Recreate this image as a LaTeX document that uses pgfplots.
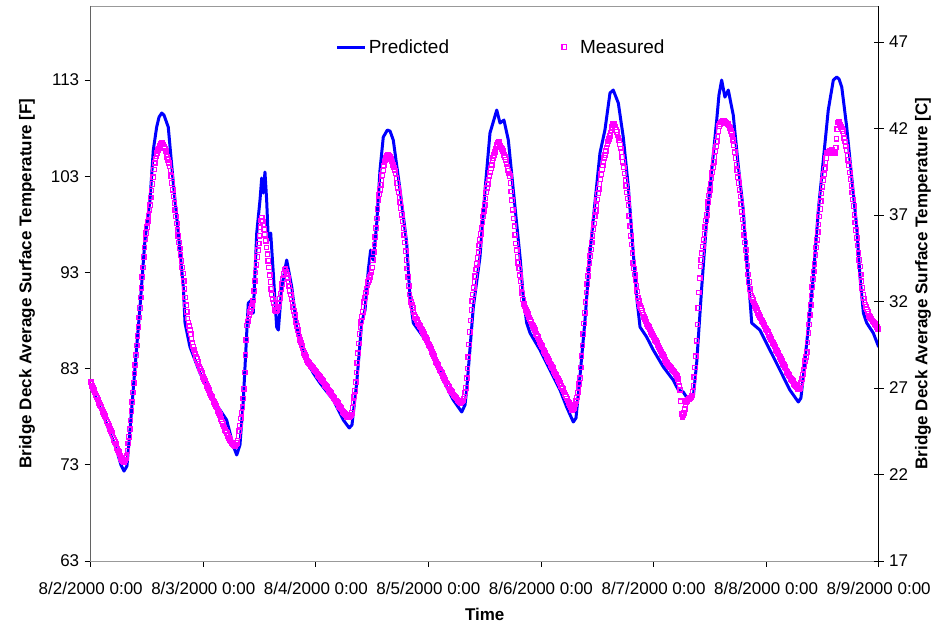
\documentclass[border=0pt]{standalone}
\usepackage{fontspec}
\setmainfont{Liberation Sans}
\usepackage{pgfplots}
\pgfplotsset{compat=1.18}
\usepackage{pgfplotstable}

\definecolor{predblue}{RGB}{0,0,255}
\definecolor{measmag}{RGB}{255,0,255}

% Legend sample styles
\pgfplotsset{
  predline legend/.style={legend image code/.code={\draw[#1] (0pt,0pt) -- (28pt,0pt);}},
  measmark legend/.style={legend image code/.code={\path[draw=none,fill=none] (0pt,0pt) -- (26pt,0pt);
    \draw[#1] plot coordinates {(12pt,0pt)};}},
}

% Predicted deck surface temperature [F] against time in days from 8/2/2000 0:00
\pgfplotstableread{
d F
0 81.26
0.053 79.84
0.142 77.24
0.231 74.54
0.269 72.98
0.296 72.35
0.322 72.87
0.349 76.62
0.394 83.17
0.438 89.40
0.482 96.37
0.527 100.53
0.556 105.72
0.586 108.11
0.607 109.15
0.631 109.57
0.651 109.36
0.689 108.11
0.734 102.29
0.778 97.10
0.823 91.48
0.838 87.74
0.882 85.25
0.971 82.54
1.089 79.74
1.208 77.66
1.264 75.06
1.297 74.02
1.326 75.06
1.356 79.74
1.386 86.70
1.400 89.82
1.430 90.13
1.444 88.78
1.475 97.10
1.504 100.53
1.519 102.81
1.533 101.25
1.548 103.44
1.563 100.53
1.578 96.37
1.599 97.10
1.622 92.94
1.652 87.32
1.667 87.01
1.697 91.48
1.741 94.29
1.786 91.48
1.830 87.32
1.889 84.62
1.977 82.54
2.037 81.50
2.155 79.74
2.244 77.66
2.297 76.83
2.321 77.14
2.363 81.50
2.407 87.74
2.437 89.09
2.466 93.25
2.487 95.33
2.510 94.29
2.541 98.13
2.570 103.64
2.599 107.07
2.635 107.80
2.659 107.70
2.688 106.76
2.748 101.57
2.807 96.06
2.836 90.44
2.866 87.74
2.955 86.28
3.043 84.62
3.132 81.81
3.221 79.74
3.296 78.49
3.325 79.22
3.340 80.78
3.399 89.40
3.458 94.60
3.503 101.57
3.547 107.49
3.607 109.88
3.636 108.53
3.671 108.84
3.710 106.76
3.754 101.57
3.814 94.60
3.843 90.44
3.873 87.74
3.903 86.70
3.992 84.93
4.080 82.85
4.169 80.78
4.228 79.01
4.287 77.45
4.311 77.86
4.346 82.13
4.391 88.05
4.435 95.02
4.479 100.21
4.524 105.41
4.568 107.80
4.613 111.65
4.642 111.96
4.687 110.61
4.731 107.07
4.776 101.88
4.820 95.02
4.850 90.44
4.880 87.32
4.939 86.28
4.998 84.93
5.087 83.17
5.175 81.81
5.220 80.78
5.264 80.57
5.309 79.74
5.353 80.05
5.383 83.58
5.428 91.48
5.472 98.45
5.517 103.64
5.561 108.84
5.581 111.44
5.605 113.00
5.634 111.23
5.664 111.96
5.708 109.36
5.752 104.16
5.797 99.49
5.827 94.29
5.857 90.13
5.872 87.74
5.945 87.01
6.034 84.93
6.123 82.85
6.211 80.78
6.286 79.53
6.309 79.94
6.330 82.13
6.375 87.32
6.419 92.52
6.464 99.49
6.508 104.68
6.552 109.88
6.597 113.00
6.627 113.31
6.648 113.10
6.672 112.27
6.716 108.11
6.760 102.92
6.805 97.72
6.834 92.52
6.864 88.78
6.894 87.74
6.952 86.70
7.0 85.25
}\predicted

% Measured deck surface temperature [F], one reading every 10 minutes from 8/2/2000 0:00
\pgfplotstableread[row sep=\\]{
F\\
81.6\\81.4\\81.2\\81.0\\80.8\\80.6\\80.4\\80.2\\80.0\\79.8\\79.6\\79.4\\79.2\\79.05\\78.9\\78.7\\78.5\\78.3\\78.1\\77.9\\77.7\\77.5\\77.3\\77.1\\
76.9\\76.7\\76.5\\76.3\\76.1\\75.85\\75.6\\75.4\\75.2\\74.95\\74.7\\74.5\\74.3\\74.1\\73.9\\73.7\\73.5\\73.35\\73.3\\73.3\\73.5\\73.7\\73.9\\74.5\\
75.2\\75.9\\76.7\\77.6\\78.6\\79.5\\80.5\\81.5\\82.5\\83.4\\84.4\\85.4\\86.4\\87.3\\88.3\\89.3\\90.4\\91.4\\92.5\\93.5\\94.6\\95.6\\96.5\\97.1\\
97.7\\98.3\\98.9\\99.5\\100.0\\100.8\\101.5\\102.2\\102.9\\103.7\\104.4\\104.8\\105.1\\105.4\\105.7\\105.9\\106.0\\106.2\\106.4\\106.45\\106.4\\106.3\\106.1\\105.9\\
105.6\\105.3\\105.0\\104.7\\104.4\\104.0\\103.6\\103.0\\102.3\\101.6\\100.9\\100.2\\99.5\\98.8\\98.1\\97.4\\96.8\\96.1\\95.5\\94.8\\94.2\\93.5\\92.9\\92.1\\
91.3\\90.4\\89.6\\88.9\\88.2\\87.8\\87.4\\87.0\\86.6\\86.1\\85.7\\85.3\\85.0\\84.7\\84.5\\84.2\\84.0\\83.7\\83.5\\83.2\\83.0\\82.8\\82.6\\82.35\\
82.1\\81.9\\81.7\\81.55\\81.4\\81.2\\81.0\\80.8\\80.6\\80.4\\80.2\\80.05\\79.9\\79.7\\79.5\\79.3\\79.1\\78.95\\78.8\\78.6\\78.4\\78.2\\78.0\\77.75\\
77.5\\77.25\\77.0\\76.8\\76.6\\76.45\\76.3\\76.15\\76.0\\75.8\\75.6\\75.45\\75.3\\75.2\\75.1\\75.0\\74.9\\74.95\\75.1\\75.3\\75.5\\76.0\\76.5\\77.1\\
77.8\\78.4\\79.0\\79.9\\80.9\\82.6\\84.4\\86.0\\87.5\\87.9\\88.2\\88.6\\88.9\\89.2\\89.5\\89.8\\90.1\\91.1\\92.1\\93.0\\93.8\\94.6\\95.3\\96.0\\
96.8\\97.7\\98.4\\98.7\\98.3\\98.0\\97.5\\96.9\\96.3\\95.6\\94.9\\94.2\\93.5\\92.7\\92.0\\91.3\\90.7\\90.2\\89.8\\89.4\\89.1\\89.0\\89.1\\89.2\\
89.4\\89.8\\90.3\\90.8\\91.3\\91.8\\92.3\\92.9\\93.3\\93.4\\93.1\\92.8\\92.4\\92.0\\91.6\\91.1\\90.7\\90.2\\89.8\\89.4\\89.0\\88.6\\88.2\\87.8\\
87.4\\87.0\\86.6\\86.3\\86.0\\85.7\\85.4\\85.15\\84.9\\84.65\\84.4\\84.2\\84.0\\83.85\\83.7\\83.6\\83.5\\83.4\\83.3\\83.2\\83.1\\83.0\\82.9\\82.8\\
82.7\\82.6\\82.5\\82.35\\82.2\\82.1\\82.0\\81.9\\81.8\\81.7\\81.6\\81.45\\81.3\\81.2\\81.1\\80.95\\80.8\\80.7\\80.6\\80.45\\80.3\\80.2\\80.1\\79.95\\
79.8\\79.7\\79.6\\79.5\\79.4\\79.25\\79.1\\79.0\\78.9\\78.75\\78.6\\78.5\\78.4\\78.3\\78.2\\78.1\\78.0\\77.9\\77.9\\77.95\\78.1\\78.2\\78.4\\78.9\\
79.5\\80.1\\80.7\\81.6\\82.6\\83.6\\84.6\\85.6\\86.6\\87.3\\87.9\\88.4\\88.9\\89.4\\89.9\\90.4\\90.9\\91.3\\91.7\\92.0\\92.2\\92.5\\92.7\\93.0\\
93.5\\94.3\\95.1\\95.9\\96.7\\97.6\\98.6\\99.6\\100.5\\101.1\\101.6\\102.1\\102.6\\103.1\\103.6\\104.1\\104.5\\104.7\\104.9\\105.1\\105.2\\105.2\\105.1\\105.0\\
104.8\\104.6\\104.4\\104.2\\103.9\\103.6\\103.3\\102.8\\102.3\\101.8\\101.3\\100.8\\100.3\\99.7\\99.0\\98.3\\97.6\\96.9\\96.1\\95.2\\94.3\\93.4\\92.5\\91.6\\
90.7\\90.3\\89.9\\89.6\\89.3\\88.9\\88.6\\88.4\\88.2\\88.05\\87.9\\87.75\\87.6\\87.45\\87.3\\87.15\\87.0\\86.8\\86.6\\86.45\\86.3\\86.15\\86.0\\85.8\\
85.6\\85.45\\85.3\\85.1\\84.9\\84.7\\84.5\\84.3\\84.1\\83.9\\83.7\\83.55\\83.4\\83.2\\83.0\\82.85\\82.7\\82.55\\82.4\\82.2\\82.0\\81.85\\81.7\\81.55\\
81.4\\81.25\\81.1\\80.95\\80.8\\80.7\\80.6\\80.45\\80.3\\80.2\\80.1\\80.0\\79.9\\79.8\\79.7\\79.6\\79.5\\79.45\\79.5\\79.6\\79.7\\79.9\\80.1\\80.5\\
81.0\\82.0\\83.0\\84.2\\85.5\\86.8\\88.0\\89.1\\90.0\\90.7\\91.4\\92.0\\92.6\\93.3\\93.9\\94.5\\95.1\\95.8\\96.4\\97.0\\97.6\\98.2\\98.8\\99.4\\
100.0\\100.7\\101.3\\101.8\\102.2\\102.6\\103.0\\103.4\\103.8\\104.2\\104.6\\104.9\\105.2\\105.5\\105.8\\106.1\\106.3\\106.5\\106.6\\106.4\\106.2\\106.0\\105.8\\105.6\\
105.4\\105.2\\105.0\\104.7\\104.3\\104.0\\103.6\\103.3\\103.0\\102.3\\101.4\\100.5\\99.5\\98.6\\97.8\\96.9\\96.0\\95.3\\94.6\\94.0\\93.4\\92.7\\92.1\\91.4\\
90.8\\90.2\\89.7\\89.5\\89.3\\89.1\\88.9\\88.7\\88.5\\88.3\\88.1\\87.9\\87.7\\87.55\\87.4\\87.2\\87.0\\86.8\\86.6\\86.45\\86.3\\86.1\\85.9\\85.7\\
85.5\\85.35\\85.2\\85.0\\84.8\\84.65\\84.5\\84.35\\84.2\\84.0\\83.8\\83.65\\83.5\\83.35\\83.2\\83.05\\82.9\\82.7\\82.5\\82.35\\82.2\\82.05\\81.9\\81.7\\
81.5\\81.35\\81.2\\81.05\\80.9\\80.7\\80.5\\80.3\\80.1\\79.9\\79.7\\79.55\\79.4\\79.2\\79.0\\78.85\\78.7\\78.75\\78.9\\79.1\\79.3\\79.6\\80.0\\80.5\\
81.0\\81.4\\82.0\\83.1\\84.3\\85.4\\86.6\\87.7\\88.8\\89.9\\90.9\\91.8\\92.6\\93.3\\94.0\\94.7\\95.4\\96.1\\96.8\\97.5\\98.1\\98.8\\99.4\\100.0\\
100.6\\101.2\\101.7\\102.2\\102.7\\103.2\\103.7\\104.1\\104.5\\104.9\\105.2\\105.6\\106.0\\106.3\\106.6\\106.9\\107.2\\107.5\\107.8\\108.1\\108.4\\108.4\\108.3\\108.1\\
107.8\\107.6\\107.3\\107.0\\106.7\\106.3\\105.9\\105.5\\105.0\\104.5\\103.9\\103.3\\102.6\\102.0\\101.3\\100.7\\100.0\\98.9\\97.8\\96.8\\95.9\\95.0\\94.0\\93.4\\
92.8\\92.2\\91.6\\91.0\\90.4\\90.0\\89.7\\89.5\\89.3\\89.05\\88.8\\88.6\\88.4\\88.15\\87.9\\87.75\\87.6\\87.45\\87.3\\87.15\\87.0\\86.8\\86.6\\86.45\\
86.3\\86.15\\86.0\\85.85\\85.7\\85.55\\85.4\\85.2\\85.0\\84.85\\84.7\\84.55\\84.4\\84.25\\84.1\\83.9\\83.7\\83.6\\83.5\\83.4\\83.3\\83.2\\83.1\\83.0\\
82.9\\82.8\\82.7\\82.6\\82.5\\82.4\\82.2\\81.9\\81.6\\81.2\\80.8\\79.6\\78.3\\78.0\\78.2\\78.4\\78.8\\79.2\\79.5\\79.6\\79.8\\79.85\\79.9\\79.95\\
80.0\\80.2\\80.6\\81.2\\82.1\\83.1\\84.3\\85.9\\87.6\\89.3\\90.9\\92.4\\93.6\\94.3\\95.0\\95.7\\96.4\\97.0\\97.7\\98.4\\99.0\\99.7\\100.3\\101.0\\
101.6\\102.2\\102.8\\103.4\\103.9\\104.5\\105.0\\105.6\\106.1\\106.6\\107.1\\107.7\\108.2\\108.4\\108.6\\108.7\\108.8\\108.8\\108.8\\108.7\\108.6\\108.55\\108.5\\108.4\\
108.3\\108.15\\108.0\\107.7\\107.4\\107.1\\106.8\\106.2\\105.5\\104.9\\104.2\\103.6\\102.9\\102.3\\101.6\\100.9\\100.1\\99.3\\98.5\\97.7\\96.9\\96.1\\95.3\\94.5\\
93.7\\92.8\\92.0\\91.3\\90.8\\90.6\\90.4\\90.15\\89.9\\89.7\\89.5\\89.3\\89.1\\88.95\\88.8\\88.6\\88.4\\88.25\\88.1\\87.95\\87.8\\87.6\\87.4\\87.25\\
87.1\\86.95\\86.8\\86.65\\86.5\\86.3\\86.1\\85.95\\85.8\\85.65\\85.5\\85.3\\85.1\\84.95\\84.8\\84.65\\84.5\\84.35\\84.2\\84.0\\83.8\\83.65\\83.5\\83.35\\
83.2\\83.0\\82.8\\82.65\\82.5\\82.35\\82.2\\82.05\\81.9\\81.8\\81.7\\81.55\\81.4\\81.3\\81.2\\81.05\\80.9\\80.85\\80.9\\81.0\\81.2\\81.5\\81.9\\82.4\\
82.9\\83.3\\83.8\\84.2\\84.7\\85.7\\86.7\\87.6\\88.6\\89.6\\90.6\\91.5\\92.3\\93.1\\93.9\\94.8\\95.6\\96.4\\97.2\\98.0\\98.8\\99.6\\100.4\\101.2\\
101.9\\102.6\\103.2\\103.8\\104.4\\104.9\\105.4\\105.45\\105.5\\105.55\\105.6\\105.65\\105.7\\105.6\\105.5\\105.4\\105.4\\106.0\\106.9\\107.9\\108.6\\108.7\\108.5\\108.3\\
108.1\\107.9\\107.7\\107.4\\107.0\\106.6\\106.1\\105.7\\105.2\\104.7\\104.1\\103.4\\102.7\\102.0\\101.3\\100.6\\99.9\\99.0\\98.2\\97.4\\96.6\\95.8\\95.0\\94.3\\
93.6\\92.8\\92.1\\91.4\\90.7\\90.3\\89.9\\89.65\\89.4\\89.15\\88.9\\88.7\\88.5\\88.35\\88.2\\88.1\\88.0\\87.9\\87.8\\87.65\\87.5\\87.4\\87.3\\87.15\\
87.0\\
}\measured

\begin{document}
\begin{tikzpicture}
\pgfplotsset{
  every axis/.append style={
    scale only axis, width=788pt, height=555pt,
    at={(0pt,0pt)}, anchor=south west,
    xmin=0, xmax=7,
    /pgf/number format/assume math mode=true,
    tick style={black, line width=0.8pt},
    ticklabel style={font=\fontsize{17}{20}\selectfont},
    label style={font=\bfseries\fontsize{17}{20}\selectfont},
  },
}
% Fahrenheit scale on the left, with the data
\begin{axis}[
  ymin=63, ymax=120.7,
  axis line style={draw=gray!80, line width=0.8pt},
  xtick={0,...,7},
  xticklabels={8/2/2000 0:00,8/3/2000 0:00,8/4/2000 0:00,8/5/2000 0:00,
               8/6/2000 0:00,8/7/2000 0:00,8/8/2000 0:00,8/9/2000 0:00},
  ytick={63,73,...,113},
  xtick pos=bottom, ytick pos=left,
  tick align=outside, major tick length=6pt,
  xticklabel style={yshift=-12pt},
  yticklabel style={xshift=-2pt},
  xlabel={Time},
  ylabel={Bridge Deck Average Surface Temperature [F]},
  xlabel style={yshift=-6pt},
  ylabel style={yshift=9pt},
  legend columns=2,
  legend style={at={(0.307,0.926)}, anchor=west, draw=none, fill=none,
    font=\fontsize{19}{22}\selectfont,
    /tikz/every even column/.append style={column sep=101pt}},
]
\addplot[predblue, line width=3pt, line join=round, predline legend]
  table[x=d, y=F] {\predicted};
\addlegendentry{Predicted}
\addplot[only marks, mark=square, mark size=2.2pt,
  mark options={draw=measmag, line width=1.25pt, fill=none}, measmark legend]
  table[x expr=\coordindex/144, y=F] {\measured};
\addlegendentry{Measured}
\draw[black, line width=0.8pt] (rel axis cs:0,1) -- (rel axis cs:0,0) -- (rel axis cs:1,0);
\end{axis}
% Celsius scale on the right
\begin{axis}[
  ymin=17, ymax=49.08,
  axis x line=none, axis y line*=right,
  y axis line style={-, black, line width=0.8pt},
  ytick={17,22,...,47},
  tick align=center, major tick length=10pt,
  yticklabel style={xshift=2pt},
  ylabel={Bridge Deck Average Surface Temperature [C]},
]
\end{axis}
\pgfresetboundingbox
\useasboundingbox (-90.7pt,-67pt) rectangle (847.3pt,561pt);
\end{tikzpicture}
\end{document}
